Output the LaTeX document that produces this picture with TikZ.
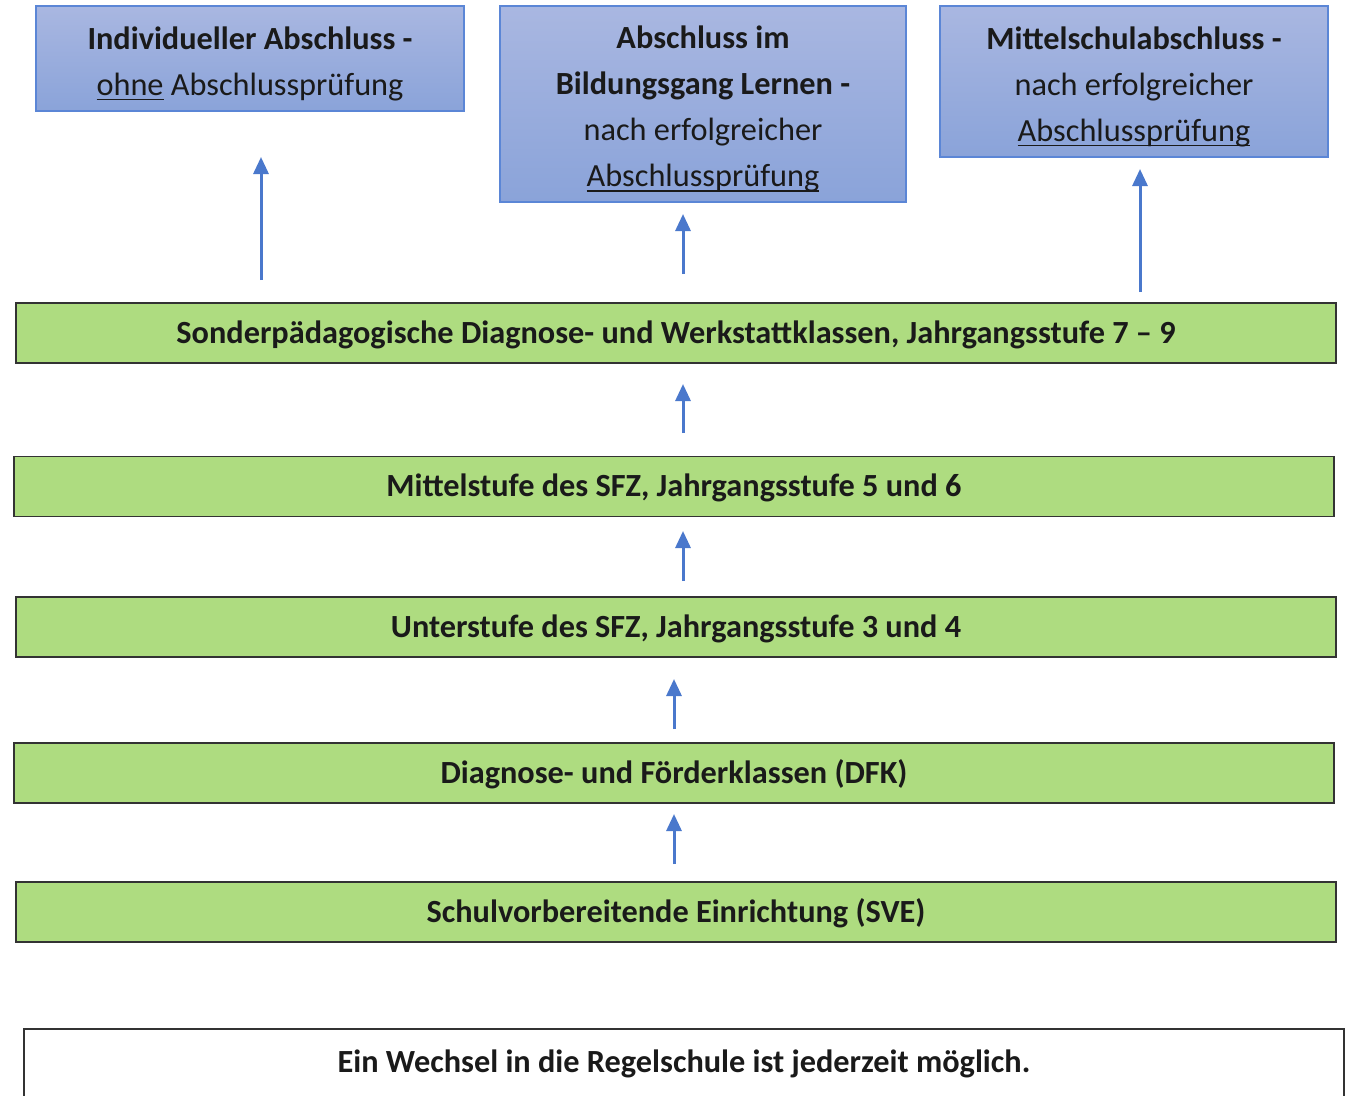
\documentclass[tikz,border=0pt]{standalone}
\usepackage{fontspec}
\setmainfont{Carlito}
\usetikzlibrary{arrows.meta}
\definecolor{bluetop}{HTML}{A9B7E1}
\definecolor{bluebot}{HTML}{8AA3D9}
\definecolor{blueline}{HTML}{5B86D6}
\definecolor{arrowblue}{HTML}{4A78CC}
\definecolor{greenfill}{HTML}{AEDC80}
\definecolor{txt}{HTML}{1A1A1A}
\newcommand\myul[1]{\setbox0\hbox{#1}\rlap{\rule[-0.16em]{\wd0}{0.055em}}\box0\relax}
\newcommand\blk[1]{\raisebox{-4.5pt}[\height][\depth]{\begin{tabular}{@{}c@{}}#1\end{tabular}}}
\tikzset{
  bluebox/.style={rectangle, draw=blueline, line width=1.8pt, top color=bluetop, bottom color=bluebot,
    inner sep=0pt, align=center, text=txt, font=\fontsize{32.3}{46}\selectfont},
  greenbox/.style={rectangle, draw=black!80, line width=1.8pt, fill=greenfill,
    minimum width=1320pt, minimum height=60pt, inner sep=0pt, text=txt,
    text height=21pt, text depth=1pt, font=\fontsize{32.3}{38}\selectfont\bfseries},
  whitebox/.style={rectangle, draw=black!80, line width=1.8pt, fill=white,
    minimum width=1320pt, minimum height=82pt, inner sep=0pt, text=txt,
    text height=21pt, text depth=16pt, font=\fontsize{32.3}{38}\selectfont\bfseries},
  uparrow/.style={draw=arrowblue, line width=3pt, -{Triangle[width=15pt,length=17pt]}}
}
\begin{document}
\begin{tikzpicture}[x=1pt,y=-1pt]
\clip (0,0) rectangle (1346,1095);
\fill[white] (0,0) rectangle (1346,1095);
% top boxes
\node[bluebox, minimum width=428pt, minimum height=105pt] (b1) at (250,58.5)
  {\blk{\textbf{Individueller Abschluss -}\\\myul{ohne} Abschlussprüfung}};
\node[bluebox, minimum width=406pt, minimum height=196pt] (b2) at (703,104)
  {\blk{\textbf{Abschluss im}\\\textbf{Bildungsgang Lernen -}\\nach erfolgreicher\\\myul{Abschlussprüfung}}};
\node[bluebox, minimum width=388pt, minimum height=151pt] (b3) at (1134,81.5)
  {\blk{\textbf{Mittelschulabschluss -}\\nach erfolgreicher\\\myul{Abschlussprüfung}}};
% green boxes
\node[greenbox] (g1) at (676,333) {Sonderpädagogische Diagnose- und Werkstattklassen, Jahrgangsstufe 7 – 9};
\node[greenbox] (g2) at (674,486.5) {Mittelstufe des SFZ, Jahrgangsstufe 5 und 6};
\node[greenbox] (g3) at (676,627) {Unterstufe des SFZ, Jahrgangsstufe 3 und 4};
\node[greenbox] (g4) at (674,773) {Diagnose- und Förderklassen (DFK)};
\node[greenbox] (g5) at (676,912) {Schulvorbereitende Einrichtung (SVE)};
% bottom box
\node[whitebox] (w) at (684,1070) {Ein Wechsel in die Regelschule ist jederzeit möglich.};
% arrow end points
\coordinate (a1s) at (261,280); \coordinate (a1e) at (261,157);
\coordinate (a2s) at (683,274); \coordinate (a2e) at (683,214);
\coordinate (a3s) at (1140,292); \coordinate (a3e) at (1140,169);
\coordinate (a4s) at (683,433); \coordinate (a4e) at (683,384);
\coordinate (a5s) at (683,581); \coordinate (a5e) at (683,531);
\coordinate (a6s) at (674,729); \coordinate (a6e) at (674,679);
\coordinate (a7s) at (674,864); \coordinate (a7e) at (674,814);
\draw[uparrow] (a1s) -- (a1e);
\draw[uparrow] (a2s) -- (a2e);
\draw[uparrow] (a3s) -- (a3e);
\draw[uparrow] (a4s) -- (a4e);
\draw[uparrow] (a5s) -- (a5e);
\draw[uparrow] (a6s) -- (a6e);
\draw[uparrow] (a7s) -- (a7e);
\end{tikzpicture}
\end{document}
